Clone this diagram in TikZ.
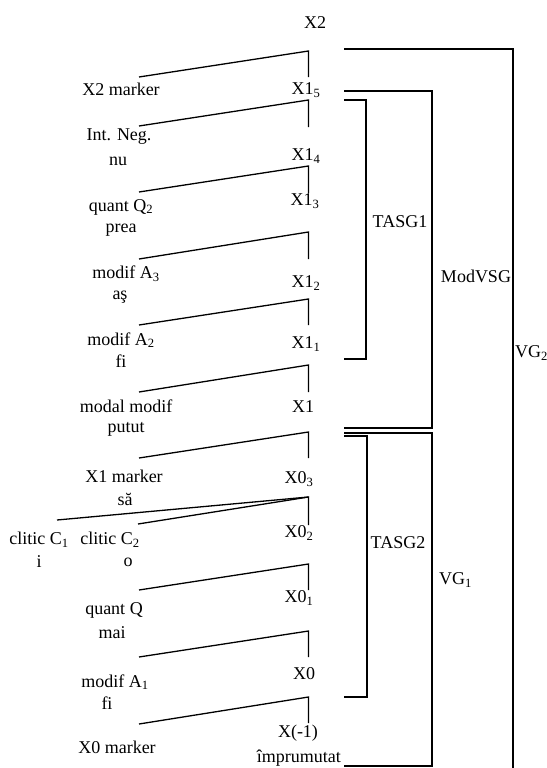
\documentclass[tikz,border=0pt]{standalone}
\usepackage{fontspec}
\setmainfont{Liberation Serif}
\begin{document}
\begin{tikzpicture}[x=1pt,y=-1pt,
  lbl/.style={inner sep=0pt,font=\fontsize{18}{22}\selectfont},
  edge/.style={line width=1.3pt},
  brk/.style={line width=1.3pt}]
\useasboundingbox (0,0) rectangle (546,768);

% tree spine: top joint (t), left end (l), foot of vertical (b)
\foreach \n/\ty/\lx/\ly/\by in {1/51/139/77/77, 2/100/139/126/127, 3/166/139/192/193,
  4/232/139/259/259, 5/299/139/325/325, 6/365/139/392/392, 7/432/139/458/458,
  8/497/138/524/525, 9/564/139/590/590, 10/631/139/657/657, 11/697/139/724/723}{
  \coordinate (t\n) at (308.5,\ty);
  \coordinate (l\n) at (\lx,\ly);
  \coordinate (b\n) at (308.5,\by);
}
\coordinate (l8a) at (57,520);

\foreach \n in {1,...,11}{ \draw[edge] (l\n) -- (t\n) -- (b\n); }
\draw[edge] (l8a) -- (t8);

% head labels
\node[lbl] (x2)   at (315,23)  {X2};
\node[lbl] (x15)  at (306,90)  {X1\textsubscript{5}};
\node[lbl] (x14)  at (306,156) {X1\textsubscript{4}};
\node[lbl] (x13)  at (305,201) {X1\textsubscript{3}};
\node[lbl] (x12)  at (306,283) {X1\textsubscript{2}};
\node[lbl] (x11)  at (306,344) {X1\textsubscript{1}};
\node[lbl] (x1)   at (303,407) {X1};
\node[lbl] (x03)  at (299,479) {X0\textsubscript{3}};
\node[lbl] (x02)  at (299,533) {X0\textsubscript{2}};
\node[lbl] (x01)  at (299,598) {X0\textsubscript{1}};
\node[lbl] (x0)   at (304,674) {X0};
\node[lbl] (xm1)  at (298,733) {X(-1)};
\node[lbl,anchor=east] (impr) at (341,758) {împrumutat};

% dependent labels
\node[lbl] (x2m)  at (121,89)  {X2 marker};
\node[lbl] (neg)  at (119,137) {Int. Neg.};
\node[lbl] (nu)   at (118,161) {nu};
\node[lbl] (q2)   at (121,207) {quant Q\textsubscript{2}};
\node[lbl] (prea) at (121,230) {prea};
\node[lbl] (a3)   at (126,274) {modif A\textsubscript{3}};
\node[lbl] (as)   at (120,297) {aş};
\node[lbl] (a2)   at (121,340) {modif A\textsubscript{2}};
\node[lbl] (fi2)  at (121,361) {fi};
\node[lbl] (mm)   at (126,406) {modal modif};
\node[lbl] (put)  at (126,429) {putut};
\node[lbl] (x1m)  at (124,476) {X1 marker};
\node[lbl] (sa)   at (125,499) {să};
\node[lbl] (c1)   at (39,540)  {clitic C\textsubscript{1}};
\node[lbl] (ci)   at (39,562)  {i};
\node[lbl] (c2)   at (110,540) {clitic C\textsubscript{2}};
\node[lbl] (co)   at (128,562) {o};
\node[lbl] (q)    at (114,610) {quant Q};
\node[lbl] (mai)  at (112,633) {mai};
\node[lbl] (a1)   at (115,682) {modif A\textsubscript{1}};
\node[lbl] (fi1)  at (107,703) {fi};
\node[lbl] (x0m)  at (117,747) {X0 marker};

% constituent brackets
\coordinate (vg2a) at (344,49);   \coordinate (vg2b) at (513,770);
\coordinate (mva)  at (344,91);   \coordinate (mvb)  at (432,428); \coordinate (mvc) at (344,428);
\coordinate (ta1a) at (344,100);  \coordinate (ta1b) at (366,359); \coordinate (ta1c) at (344,359);
\coordinate (vg1a) at (344,433);  \coordinate (vg1b) at (432,766); \coordinate (vg1c) at (344,766);
\coordinate (ta2a) at (344,436);  \coordinate (ta2b) at (367,697); \coordinate (ta2c) at (344,697);

\draw[brk] (vg2a) -| (vg2b);
\draw[brk] (mva) -| (mvb) -- (mvc);
\draw[brk] (ta1a) -| (ta1b) -- (ta1c);
\draw[brk] (vg1a) -| (vg1b) -- (vg1c);
\draw[brk] (ta2a) -| (ta2b) -- (ta2c);

\node[lbl] (tasg1) at (400,222) {TASG1};
\node[lbl] (modv)  at (476,276) {ModVSG};
\node[lbl,anchor=west] (vg2) at (515,353) {VG\textsubscript{2}};
\node[lbl] (tasg2) at (398,543) {TASG2};
\node[lbl,anchor=west] (vg1) at (439,580) {VG\textsubscript{1}};
\end{tikzpicture}
\end{document}
